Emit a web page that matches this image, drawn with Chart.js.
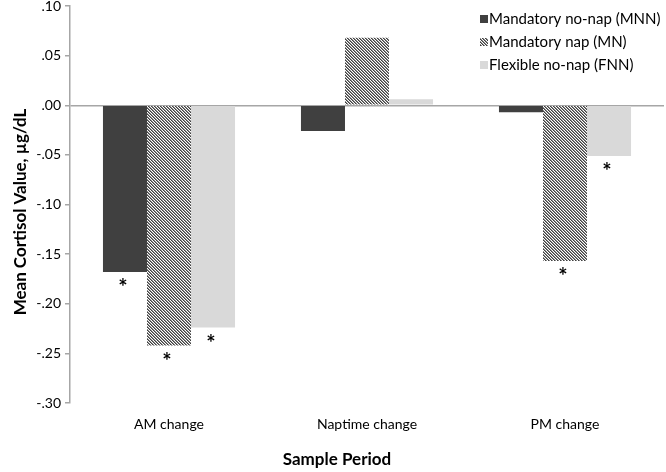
<!DOCTYPE html>
<html>
<head>
<meta charset="utf-8">
<script src="https://cdn.jsdelivr.net/npm/chart.js@4"></script>
<style>
  html, body { margin: 0; padding: 0; background: #fff; }
  #wrap { width: 666px; height: 472px; }
</style>
</head>
<body>
<div id="wrap"><canvas id="chart" width="666" height="472"></canvas></div>
<script>
const categories = ["AM change", "Naptime change", "PM change"]
const seriesNames = ["Mandatory no-nap (MNN)", "Mandatory nap (MN)", "Flexible no-nap (FNN)"]
const mnnValues = [-0.168, -0.026, -0.007]
const mnValues = [-0.242, 0.068, -0.157]
const fnnValues = [-0.224, 0.006, -0.051]
// which bars carry a significance star
const mnnStars = [true, false, false]
const mnStars = [true, false, true]
const fnnStars = [true, false, true]

const FONT = "Lato"
const AXIS_GRAY = '#a6a6a6'

function hatch() {
  const c = document.createElement('canvas')
  c.width = 3; c.height = 3
  const g = c.getContext('2d')
  g.fillStyle = '#ffffff'
  g.fillRect(0, 0, 3, 3)
  for (let i = 0; i < 3; i++) {
    g.fillStyle = '#404040'
    g.fillRect(i, i, 1, 1)
    g.fillStyle = '#8c8c8c'
    g.fillRect((i + 1) % 3, i, 1, 1)
  }
  return g.createPattern(c, 'repeat')
}
const hatchFill = hatch()
const fills = ['#404040', hatchFill, '#d9d9d9']
const stars = [mnnStars, mnStars, fnnStars]

// stars under bars, legend and axis titles
const extras = {
  id: 'extras',
  afterDatasetsDraw(chart) {
    const ctx = chart.ctx
    ctx.save()
    ctx.fillStyle = '#000'
    ctx.font = `bold 22px ${FONT}`
    ctx.textAlign = 'center'
    ctx.textBaseline = 'top'
    chart.data.datasets.forEach((ds, i) => {
      const meta = chart.getDatasetMeta(i)
      meta.data.forEach((bar, j) => {
        if (!stars[i][j]) return
        ctx.fillText('*', bar.x - 2, bar.y + 5)
      })
    })
    ctx.restore()
  },
  afterDraw(chart) {
    const ctx = chart.ctx
    ctx.save()
    // legend
    ctx.font = `15px ${FONT}`
    ctx.textBaseline = 'middle'
    ctx.textAlign = 'left'
    const lx = 480, ly = [19, 42, 65]
    seriesNames.forEach((name, i) => {
      ctx.fillStyle = fills[i]
      ctx.fillRect(lx, ly[i] - 4, 8, 8)
      ctx.fillStyle = '#000'
      ctx.fillText(name, lx + 9, ly[i])
    })
    // axis titles
    ctx.font = `bold 17px ${FONT}`
    ctx.textAlign = 'center'
    ctx.fillText('Sample Period', 337, 460)
    ctx.translate(21, 212)
    ctx.rotate(-Math.PI / 2)
    ctx.fillText('Mean Cortisol Value, µg/dL', 0, 0)
    ctx.restore()
  }
}

new Chart(document.getElementById('chart'), {
  type: 'bar',
  data: {
    labels: categories,
    datasets: [
      { label: seriesNames[0], data: mnnValues, backgroundColor: fills[0] },
      { label: seriesNames[1], data: mnValues, backgroundColor: fills[1] },
      { label: seriesNames[2], data: fnnValues, backgroundColor: fills[2] }
    ]
  },
  options: {
    responsive: false,
    animation: false,
    layout: { padding: { top: 0, right: 2, left: 0, bottom: 0 } },
    datasets: {
      bar: { categoryPercentage: 0.667, barPercentage: 1.0 }
    },
    plugins: {
      legend: { display: false },
      tooltip: { enabled: false }
    },
    scales: {
      x: {
        grid: { display: false },
        border: { display: false },
        ticks: { color: '#000', font: { family: FONT, size: 14 }, padding: 5 },
        afterFit: s => { s.height = 69 }
      },
      y: {
        min: -0.3,
        max: 0.1,
        ticks: {
          stepSize: 0.05,
          color: '#000',
          padding: 4,
          font: { family: FONT, size: 14, lineHeight: 0.3 },
          callback: v => v.toFixed(2).replace('0.', '.')
        },
        grid: {
          color: c => Math.abs(c.tick.value) < 1e-9 ? AXIS_GRAY : 'transparent',
          tickColor: AXIS_GRAY,
          tickLength: 5,
          lineWidth: 1.5
        },
        border: { color: AXIS_GRAY, width: 1.5 },
        afterFit: s => { s.width = 70 }
      }
    }
  },
  plugins: [extras]
})
</script>
</body>
</html>
